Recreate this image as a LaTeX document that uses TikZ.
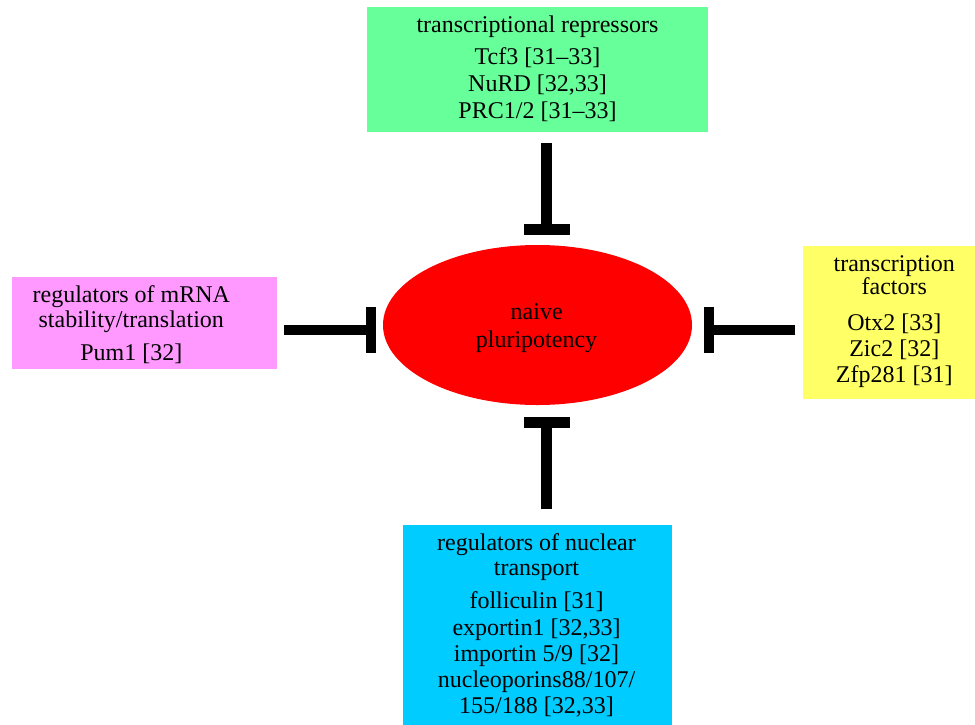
\documentclass[tikz,border=0pt]{standalone}
\usepackage{fontspec}
\setmainfont{Liberation Serif}
\usetikzlibrary{arrows.meta,shapes.geometric}
\definecolor{cgreen}{RGB}{102,255,153}
\definecolor{cpink}{RGB}{255,153,255}
\definecolor{cyellow}{RGB}{255,255,102}
\definecolor{cblue}{RGB}{0,204,255}
\begin{document}
\begin{tikzpicture}[x=1pt,y=-1pt,
  colbox/.style={rectangle,draw=none,inner sep=0pt,outer sep=0pt},
  lbl/.style={anchor=base,inner sep=0pt,outer sep=0pt,font=\fontsize{24}{28}\selectfont},
  inh/.style={line width=10.8pt,-{Rectangle[length=10.7pt,width=46pt,line width=0pt]}}]
\useasboundingbox (0,0) rectangle (975,724);
% boxes
\node[colbox,fill=cgreen,minimum width=341.3pt,minimum height=124.4pt] (rep) at (537.3,69.5) {};
\node[colbox,fill=cpink,minimum width=264.7pt,minimum height=92.6pt] (mrna) at (144.3,323) {};
\node[colbox,fill=cyellow,minimum width=171.7pt,minimum height=153.3pt] (tf) at (889.2,322.7) {};
\node[colbox,fill=cblue,minimum width=269pt,minimum height=201pt] (nuc) at (537.2,625.5) {};
\node[ellipse,fill=red,draw=none,inner sep=0pt,outer sep=0pt,minimum width=309pt,minimum height=160pt] (nv) at (537.5,325) {};
% texts
\node[lbl] (v1) at (536.7,319.3) {naive};
\node[lbl] (v2) at (536.5,347.3) {pluripotency};
\node[lbl] (r1) at (537.5,32.3) {transcriptional repressors};
\node[lbl] (r2) at (537.5,64.3) {Tcf3 [31–33]};
\node[lbl] (r3) at (537.5,91.5) {NuRD [32,33]};
\node[lbl] (r4) at (537.5,118.5) {PRC1/2 [31–33]};
\node[lbl] (m1) at (131.3,302.7) {regulators of mRNA};
\node[lbl] (m2) at (131.3,327.3) {stability/translation};
\node[lbl] (m3) at (131.3,360) {Pum1 [32]};
\node[lbl] (t1) at (894.3,271) {transcription};
\node[lbl] (t2) at (894.3,294.3) {factors};
\node[lbl] (t3) at (894.3,330) {Otx2 [33]};
\node[lbl] (t4) at (894.3,356.7) {Zic2 [32]};
\node[lbl] (t5) at (894.3,382.7) {Zfp281 [31]};
\node[lbl] (n1) at (536.5,550.7) {regulators of nuclear};
\node[lbl] (n2) at (536.5,575) {transport};
\node[lbl] (n3) at (536.5,608.3) {folliculin [31]};
\node[lbl] (n4) at (536.5,635) {exportin1 [32,33]};
\node[lbl] (n5) at (536.5,661.5) {importin 5/9 [32]};
\node[lbl] (n6) at (536.5,687.5) {nucleoporins88/107/};
\node[lbl] (n7) at (536.5,713.5) {155/188 [32,33]};
% connectors
\coordinate (vl) at (546.5,0);
\coordinate (hl) at (0,330);
\draw[inh,shorten <=11.6pt,shorten >=10pt] (rep.south -| vl) -- (nv.north -| vl);
\draw[inh,shorten <=15.7pt,shorten >=12pt] (nuc.north -| vl) -- (nv.south -| vl);
\draw[inh,shorten <=7.6pt,shorten >=6.7pt] (mrna.east |- hl) -- (nv.west |- hl);
\draw[inh,shorten <=8pt,shorten >=11.6pt] (tf.west |- hl) -- (nv.east |- hl);
\end{tikzpicture}
\end{document}
